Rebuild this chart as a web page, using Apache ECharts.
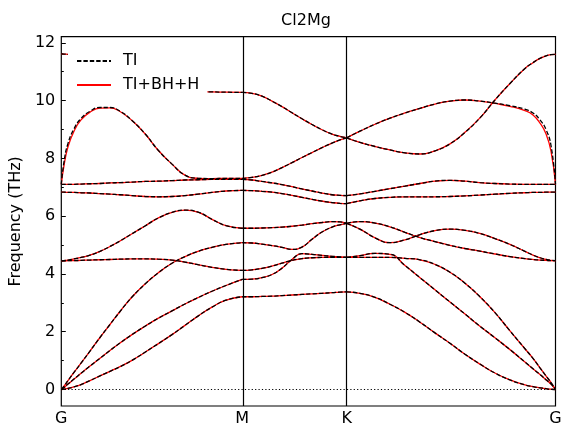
<!DOCTYPE html>
<html><head><meta charset="utf-8">
<script src="https://cdn.jsdelivr.net/npm/echarts@6/dist/echarts.min.js"></script>
<style>html,body{margin:0;padding:0;background:#fff}#c{width:562px;height:428px}</style>
</head><body><div id="c"></div>
<script>
const TITLE = 'Cl2Mg';
const Y_NAME = 'Frequency (THz)';
const SERIES_NAMES = ['TI', 'TI+BH+H'];
const XTICK_POS = [0, 0.5774, 0.9107, 1.5774];
const XTICK_LABELS = ['G', 'M', 'K', 'G'];
const YTICKS = [0, 2, 4, 6, 8, 10, 12];
const YMINOR = [1, 3, 5, 7, 9, 11];

// k-path distances of the sample points on each segment
const K_GM = [0, 0.0086, 0.0214, 0.0405, 0.0629, 0.0916, 0.1235, 0.1554, 0.1874, 0.2257, 0.2672, 0.3086, 0.3533, 0.3948, 0.4363, 0.4810, 0.5257, 0.5774];
const K_MK = [0.5774, 0.6087, 0.6406, 0.6725, 0.7044, 0.7363, 0.7682, 0.8002, 0.8321, 0.8640, 0.8896, 0.9107];
const K_KG = [0.9107, 0.9533, 1.0013, 1.0491, 1.0970, 1.1449, 1.1927, 1.2406, 1.2885, 1.3363, 1.3842, 1.4321, 1.4799, 1.5055, 1.5279, 1.5470, 1.5630, 1.5774];

// TI bands (THz), G -> M
const TI_GM = [
  [0, 0.01, 0.04, 0.09, 0.17, 0.31, 0.47, 0.63, 0.79, 1.01, 1.29, 1.58, 1.90, 2.22, 2.54, 2.85, 3.09, 3.21],
  [0, 0.07, 0.19, 0.36, 0.56, 0.81, 1.08, 1.35, 1.61, 1.90, 2.19, 2.46, 2.72, 2.96, 3.18, 3.40, 3.60, 3.81],
  [0, 0.12, 0.31, 0.59, 0.91, 1.33, 1.80, 2.25, 2.70, 3.20, 3.65, 4.03, 4.37, 4.60, 4.78, 4.92, 5.02, 5.08],
  [4.45, 4.45, 4.46, 4.46, 4.47, 4.48, 4.49, 4.50, 4.51, 4.52, 4.52, 4.51, 4.48, 4.41, 4.32, 4.23, 4.16, 4.12],
  [4.45, 4.46, 4.48, 4.52, 4.57, 4.65, 4.78, 4.95, 5.14, 5.39, 5.66, 5.93, 6.13, 6.21, 6.14, 5.89, 5.67, 5.58],
  [6.83, 6.83, 6.82, 6.82, 6.81, 6.80, 6.78, 6.76, 6.74, 6.71, 6.68, 6.67, 6.68, 6.71, 6.76, 6.82, 6.87, 6.89],
  [7.10, 7.10, 7.10, 7.10, 7.11, 7.12, 7.13, 7.15, 7.16, 7.18, 7.20, 7.21, 7.23, 7.25, 7.26, 7.27, 7.27, 7.27],
  [7.10, 7.88, 8.52, 9.02, 9.38, 9.63, 9.76, 9.76, 9.63, 9.31, 8.85, 8.29, 7.80, 7.42, 7.31, 7.30, 7.31, 7.31],
  [11.62, 11.61, 11.60, 11.57, 11.52, 11.44, 11.32, 11.18, 11.02, 10.84, 10.65, 10.50, 10.40, 10.34, 10.31, 10.30, 10.29, 10.28]
];
// TI bands, M -> K
const TI_MK = [
  [3.21, 3.21, 3.22, 3.23, 3.25, 3.27, 3.29, 3.31, 3.33, 3.35, 3.37, 3.38],
  [3.81, 3.82, 3.87, 3.98, 4.20, 4.50, 4.70, 4.68, 4.64, 4.61, 4.59, 4.57],
  [5.08, 5.07, 5.03, 4.98, 4.92, 4.85, 4.93, 5.20, 5.45, 5.62, 5.70, 5.75],
  [4.12, 4.14, 4.19, 4.27, 4.37, 4.47, 4.53, 4.56, 4.57, 4.57, 4.57, 4.57],
  [5.58, 5.58, 5.59, 5.60, 5.62, 5.65, 5.69, 5.74, 5.78, 5.81, 5.80, 5.75],
  [6.89, 6.88, 6.86, 6.83, 6.78, 6.72, 6.65, 6.58, 6.52, 6.47, 6.44, 6.43],
  [7.27, 7.25, 7.20, 7.15, 7.09, 7.02, 6.94, 6.87, 6.80, 6.74, 6.72, 6.71],
  [7.31, 7.34, 7.41, 7.52, 7.68, 7.85, 8.03, 8.20, 8.37, 8.53, 8.64, 8.71],
  [10.28, 10.25, 10.15, 9.98, 9.79, 9.58, 9.37, 9.17, 8.99, 8.84, 8.76, 8.71]
];
// TI bands, K -> G
const TI_KG = [
  [3.38, 3.33, 3.19, 2.95, 2.67, 2.33, 1.96, 1.60, 1.22, 0.88, 0.57, 0.33, 0.16, 0.10, 0.06, 0.03, 0.01, 0],
  [4.57, 4.63, 4.71, 4.68, 4.29, 3.87, 3.45, 3.03, 2.61, 2.19, 1.79, 1.38, 0.95, 0.72, 0.52, 0.34, 0.19, 0],
  [5.75, 5.55, 5.25, 5.08, 5.18, 5.36, 5.50, 5.55, 5.51, 5.40, 5.22, 5.02, 4.78, 4.65, 4.56, 4.50, 4.47, 4.46],
  [4.57, 4.57, 4.57, 4.57, 4.54, 4.49, 4.33, 4.06, 3.68, 3.21, 2.66, 2.03, 1.41, 1.08, 0.75, 0.47, 0.24, 0],
  [5.75, 5.81, 5.76, 5.63, 5.44, 5.26, 5.12, 4.99, 4.88, 4.79, 4.69, 4.60, 4.53, 4.50, 4.48, 4.47, 4.46, 4.46],
  [6.43, 6.53, 6.61, 6.65, 6.67, 6.67, 6.67, 6.68, 6.70, 6.73, 6.76, 6.79, 6.81, 6.82, 6.82, 6.83, 6.83, 6.83],
  [6.71, 6.77, 6.86, 6.95, 7.04, 7.13, 7.21, 7.24, 7.21, 7.16, 7.13, 7.11, 7.10, 7.10, 7.10, 7.10, 7.10, 7.10],
  [8.71, 8.94, 9.18, 9.39, 9.57, 9.73, 9.88, 9.98, 10.02, 9.98, 9.91, 9.82, 9.70, 9.57, 9.33, 9.00, 8.45, 7.10],
  [8.71, 8.55, 8.41, 8.29, 8.19, 8.15, 8.26, 8.50, 8.90, 9.40, 10.02, 10.59, 11.11, 11.31, 11.46, 11.55, 11.59, 11.60]
];
// TI+BH+H: bands that differ visibly from TI (band 8 near G); all other bands coincide with TI
const BAND8_GM_BH = [7.10, 7.75, 8.40, 8.94, 9.33, 9.60, 9.74, 9.75, 9.62, 9.31, 8.85, 8.29, 7.80, 7.42, 7.31, 7.30, 7.31, 7.31];
const BAND8_KG_BH = [8.71, 8.94, 9.18, 9.39, 9.57, 9.73, 9.88, 9.98, 10.02, 9.98, 9.90, 9.80, 9.65, 9.50, 9.22, 8.85, 8.25, 7.10];
const BH_GM = TI_GM.map((b, i) => i === 7 ? BAND8_GM_BH : b);
const BH_MK = TI_MK;
const BH_KG = TI_KG.map((b, i) => i === 7 ? BAND8_KG_BH : b);

const FONT = 'DejaVu Sans';
const chart = echarts.init(document.getElementById('c'), null, {renderer: 'canvas'});

function mk(name, ks, vals, ls, z) {
  return {
    type: 'line', name: name, data: ks.map((k, i) => [k, vals[i]]),
    showSymbol: false, symbol: 'none', smooth: 0.5, silent: true,
    lineStyle: ls, z: z, animation: false
  };
}
const series = [];
const segs = [[K_GM, TI_GM, BH_GM], [K_MK, TI_MK, BH_MK], [K_KG, TI_KG, BH_KG]];
segs.forEach(([ks, ti, bh]) => {
  bh.forEach(b => series.push(mk(SERIES_NAMES[1], ks, b, {color: '#ff0000', width: 1.3, type: 'solid'}, 2)));
  ti.forEach(b => series.push(mk(SERIES_NAMES[0], ks, b, {color: '#000000', width: 1.3, type: [4.4, 2]}, 3)));
});
series.push({
  type: 'line', name: 'guides', data: [], silent: true, z: 1,
  markLine: {
    symbol: 'none', silent: true, animation: false, label: {show: false},
    lineStyle: {color: '#000', width: 1.2, type: 'solid'},
    data: [
      {xAxis: XTICK_POS[1]}, {xAxis: XTICK_POS[2]},
      {yAxis: 0, lineStyle: {color: '#000', width: 1.1, type: [1.2, 2.2]}}
    ]
  }
});

chart.setOption({
  animation: false,
  backgroundColor: '#fff',
  title: {
    text: TITLE, left: 301, top: 8, textAlign: 'center',
    textStyle: {fontFamily: FONT, fontSize: 16, fontWeight: 'normal', color: '#000'}
  },
  legend: {
    data: SERIES_NAMES, orient: 'vertical', left: 68, top: 46,
    backgroundColor: '#fff', padding: [7, 8, 7, 8], itemGap: 8,
    itemWidth: 34, itemHeight: 14, z: 10,
    itemStyle: {color: 'rgba(0,0,0,0)', borderWidth: 0, opacity: 0},
    textStyle: {fontFamily: FONT, fontSize: 16, color: '#000', lineHeight: 16, padding: [0, 0, 0, 7]}
  },
  grid: {left: 61.3, right: 6.5, top: 36.7, bottom: 22, show: true, borderColor: '#000', borderWidth: 1.2, backgroundColor: 'transparent', outerBoundsMode: 'none'},
  xAxis: {
    type: 'value', min: XTICK_POS[0], max: XTICK_POS[3],
    axisLine: {show: false}, axisTick: {show: false}, splitLine: {show: false},
    axisLabel: {
      customValues: XTICK_POS, showMinLabel: true, showMaxLabel: true, margin: 5,
      fontFamily: FONT, fontSize: 16, color: '#000',
      formatter: v => {
        let best = 0;
        XTICK_POS.forEach((p, i) => { if (Math.abs(p - v) < Math.abs(XTICK_POS[best] - v)) best = i; });
        return XTICK_LABELS[best];
      }
    }
  },
  yAxis: [{
    type: 'value', min: -0.571, max: 12.21, position: 'left',
    name: Y_NAME, nameLocation: 'middle', nameGap: 22,
    nameTextStyle: {fontFamily: FONT, fontSize: 16, color: '#000'},
    axisLine: {show: false}, splitLine: {show: false},
    axisTick: {show: true, inside: true, length: 4.5, customValues: YTICKS, lineStyle: {color: '#000', width: 1}},
    axisLabel: {customValues: YTICKS, margin: 6, fontFamily: FONT, fontSize: 16, color: '#000'}
  }, {
    type: 'value', min: -0.571, max: 12.21, position: 'left', offset: 0,
    axisLine: {show: false}, splitLine: {show: false}, axisLabel: {show: false},
    axisTick: {show: true, inside: true, length: 2.5, customValues: YMINOR, lineStyle: {color: '#000', width: 1}}
  }],
  series: series
});
</script>
</body></html>
